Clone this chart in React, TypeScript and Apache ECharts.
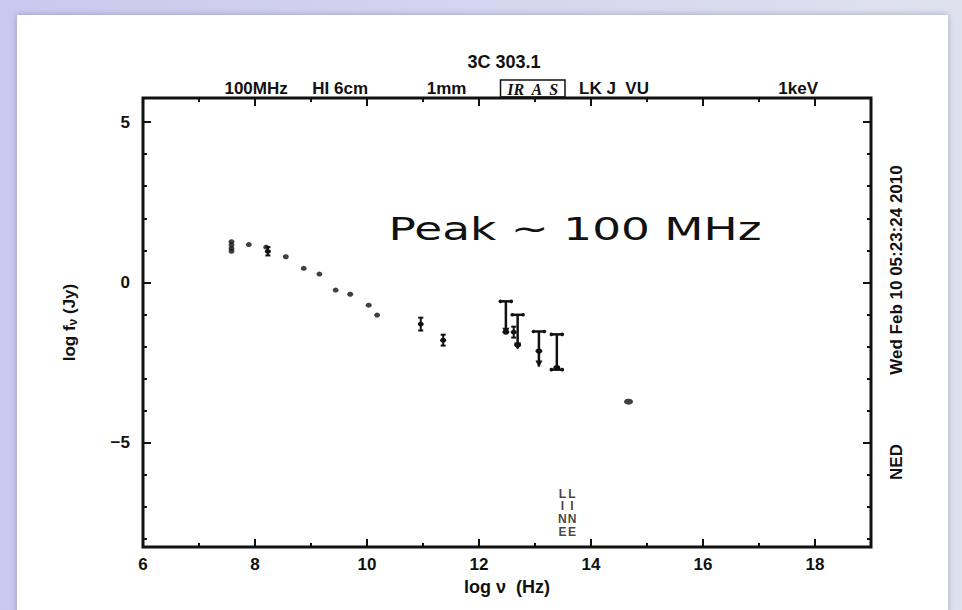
import React, { useEffect, useRef } from "react";
import * as echarts from "echarts";

// Spectral energy distribution of 3C 303.1 (log nu in Hz, log f_nu in Jy)

// Radio / mm photometry drawn as plain points
const RADIO_NU = [7.58, 7.58, 7.58, 7.58, 7.89, 8.2, 8.55, 8.87, 9.15, 9.44, 9.7, 10.03, 10.18];
const RADIO_F = [1.27, 1.17, 1.06, 0.97, 1.18, 1.1, 0.8, 0.44, 0.26, -0.24, -0.37, -0.71, -1.02];

// Points carrying error bars
const ERR_NU = [8.23, 10.96, 11.36, 12.62];
const ERR_F = [0.97, -1.3, -1.8, -1.55];
const ERR_LO = [0.84, -1.5, -1.97, -1.72];
const ERR_HI = [1.1, -1.1, -1.63, -1.38];

// Infrared measurements with long bars; most end in a downward arrow
const IR_NU = [12.48, 12.69, 13.07, 13.39];
const IR_F = [-1.55, -1.95, -2.14, -2.66];
const IR_HI = [-0.59, -1.01, -1.53, -1.62];
const IR_LO = [-1.6, -2.06, -2.62, -2.72];
const IR_ARROW = [1, 1, 1, 0];

// Optical / X-ray point
const HI_NU = [14.67];
const HI_F = [-3.72];

// Emission-line flags
const LINE_NU = [13.49, 13.66];
const LINE_TEXT = "L\nI\nN\nE";

// Band labels along the top of the frame
const BAND_NU = [8.02, 9.52, 11.42, 12.96, 14.41, 17.7];
const BAND_TEXT = ["100MHz", "HI 6cm", "1mm", "{box|IR  A  S}", "LK J  VU", "1keV"];

// Axis tick values
const X_MAJOR = [6, 8, 10, 12, 14, 16, 18];
const X_MINOR = [7, 9, 11, 13, 15, 17];
const Y_MAJOR = [-5, 0, 5];
const Y_MINOR = [-8, -7, -6, -4, -3, -2, -1, 1, 2, 3, 4];

const X_MIN = 6;
const X_MAX = 19;
const Y_MIN = -8.25;
const Y_MAX = 5.75;
const LINE_LABEL_Y = -7.18;

const FONT = "Liberation Sans";
const INK = "#111";

function tickAxis(position: string, values: number[], len: number, min: number, max: number) {
  return {
    type: "value",
    position,
    min,
    max,
    axisLine: { show: false, onZero: false },
    splitLine: { show: false },
    axisLabel: { show: false },
    axisTick: {
      show: true,
      inside: true,
      length: len,
      customValues: values,
      lineStyle: { color: INK, width: 2 },
    },
  };
}

export default function App() {
  const ref = useRef<HTMLDivElement>(null);

  useEffect(() => {
    if (!ref.current) return;
    const chart = echarts.init(ref.current, undefined, { renderer: "svg" });

    const radio = RADIO_NU.map((x, i) => [x, RADIO_F[i]]);
    const errs = ERR_NU.map((x, i) => [x, ERR_F[i], ERR_LO[i], ERR_HI[i]]);
    const ir = IR_NU.map((x, i) => [x, IR_HI[i], IR_LO[i], IR_F[i], IR_ARROW[i]]);
    const high = HI_NU.map((x, i) => [x, HI_F[i]]);
    const lines = LINE_NU.map((x) => [x, LINE_LABEL_Y]);
    // tick marks on the top and bottom frame edges: [value, length]
    const xTicks = [...X_MAJOR.map((v) => [v, 8]), ...X_MINOR.map((v) => [v, 4])];

    const minus = (v: number) => String(v).replace("-", "\u2212");

    chart.setOption({
      animation: false,
      backgroundColor: "transparent",
      title: {
        text: "3C 303.1",
        left: 499,
        top: 48,
        textAlign: "center",
        textStyle: { fontFamily: FONT, fontWeight: "bold", fontSize: 18, color: INK },
      },
      grid: {
        left: 143,
        right: 91,
        top: 98,
        bottom: 63,
        show: true,
        borderColor: INK,
        borderWidth: 3,
        backgroundColor: "transparent",
      },
      xAxis: [
        {
          type: "value",
          position: "bottom",
          min: X_MIN,
          max: X_MAX,
          axisLine: { show: false, onZero: false },
          splitLine: { show: false },
          axisTick: { show: false },
          axisLabel: {
            customValues: X_MAJOR,
            margin: 9,
            fontFamily: FONT,
            fontWeight: "bold",
            fontSize: 17,
            color: INK,
          },
          name: "log \u03bd  (Hz)",
          nameLocation: "middle",
          nameGap: 30,
          nameTextStyle: { fontFamily: FONT, fontWeight: "bold", fontSize: 18, color: INK },
        },
        {
          type: "value",
          position: "top",
          min: X_MIN,
          max: X_MAX,
          axisLine: { show: false, onZero: false },
          splitLine: { show: false },
          axisTick: { show: false },
          axisLabel: {
            customValues: BAND_NU,
            margin: 1,
            fontFamily: FONT,
            fontWeight: "bold",
            fontSize: 17,
            color: INK,
            formatter: (v: number) => {
              const i = BAND_NU.findIndex((b) => Math.abs(b - v) < 1e-6);
              return i >= 0 ? BAND_TEXT[i] : "";
            },
            rich: {
              box: {
                fontFamily: "Liberation Serif",
                fontStyle: "italic",
                fontWeight: "bold",
                fontSize: 16,
                color: INK,
                borderColor: INK,
                borderWidth: 1.5,
                padding: [1, 6, 0, 6],
              },
            },
          },
        },
      ],
      yAxis: [
        {
          type: "value",
          position: "left",
          min: Y_MIN,
          max: Y_MAX,
          axisLine: { show: false, onZero: false },
          splitLine: { show: false },
          axisTick: {
            show: true,
            inside: true,
            length: 8,
            customValues: Y_MAJOR,
            lineStyle: { color: INK, width: 2 },
          },
          axisLabel: {
            customValues: Y_MAJOR,
            margin: 13,
            fontFamily: FONT,
            fontWeight: "bold",
            fontSize: 17,
            color: INK,
            formatter: minus,
          },
          name: "log f{sub|\u03bd} (Jy)",
          nameLocation: "middle",
          nameGap: 64,
          nameRotate: 90,
          nameTextStyle: {
            fontFamily: FONT,
            fontWeight: "bold",
            fontSize: 17,
            color: INK,
            rich: {
              sub: { fontFamily: FONT, fontWeight: "bold", fontSize: 12, color: INK, padding: [8, 0, 0, 0] },
            },
          },
        },
        tickAxis("left", Y_MINOR, 4, Y_MIN, Y_MAX),
        tickAxis("right", Y_MAJOR, 8, Y_MIN, Y_MAX),
        tickAxis("right", Y_MINOR, 4, Y_MIN, Y_MAX),
      ],
      graphic: [
        {
          type: "text",
          x: 575,
          y: 229,
          scaleX: 1.42,
          style: {
            text: "Peak ~ 100 MHz",
            font: "32px 'DejaVu Sans'",
            fill: INK,
            align: "center",
            verticalAlign: "middle",
          },
        },
        {
          type: "text",
          x: 896,
          y: 270,
          rotation: Math.PI / 2,
          style: {
            text: "Wed Feb 10 05:23:24 2010",
            font: `bold 17px '${FONT}'`,
            fill: INK,
            align: "center",
            verticalAlign: "middle",
          },
        },
        {
          type: "text",
          x: 896,
          y: 462,
          rotation: Math.PI / 2,
          style: {
            text: "NED",
            font: `bold 17px '${FONT}'`,
            fill: INK,
            align: "center",
            verticalAlign: "middle",
          },
        },
      ],
      series: [
        {
          // inward tick marks along the top and bottom of the frame
          type: "custom",
          data: xTicks,
          encode: { x: 0 },
          silent: true,
          renderItem: (_p: any, api: any) => {
            const v = api.value(0);
            const len = api.value(1);
            const b = api.coord([v, Y_MIN]);
            const t = api.coord([v, Y_MAX]);
            const st = { stroke: INK, lineWidth: 2 };
            return {
              type: "group",
              children: [
                { type: "line", shape: { x1: b[0], y1: b[1], x2: b[0], y2: b[1] - len }, style: st },
                { type: "line", shape: { x1: t[0], y1: t[1], x2: t[0], y2: t[1] + len }, style: st },
              ],
            };
          },
        },
        {
          type: "scatter",
          data: radio,
          symbol: "circle",
          symbolSize: [6, 5],
          itemStyle: { color: INK },
        },
        {
          type: "custom",
          data: errs,
          encode: { x: 0, y: 1 },
          renderItem: (_p: any, api: any) => {
            const x = api.value(0);
            const c = api.coord([x, api.value(1)]);
            const lo = api.coord([x, api.value(2)]);
            const hi = api.coord([x, api.value(3)]);
            const st = { stroke: INK, lineWidth: 2 };
            return {
              type: "group",
              children: [
                { type: "line", shape: { x1: hi[0], y1: hi[1], x2: lo[0], y2: lo[1] }, style: st },
                { type: "line", shape: { x1: hi[0] - 2.5, y1: hi[1], x2: hi[0] + 2.5, y2: hi[1] }, style: st },
                { type: "line", shape: { x1: lo[0] - 2.5, y1: lo[1], x2: lo[0] + 2.5, y2: lo[1] }, style: st },
                { type: "ellipse", shape: { cx: c[0], cy: c[1], rx: 3, ry: 2.4 }, style: { fill: INK } },
              ],
            };
          },
        },
        {
          type: "custom",
          data: ir,
          encode: { x: 0, y: 1 },
          renderItem: (_p: any, api: any) => {
            const x = api.value(0);
            const hi = api.coord([x, api.value(1)]);
            const lo = api.coord([x, api.value(2)]);
            const c = api.coord([x, api.value(3)]);
            const arrow = api.value(4) > 0;
            const st = { stroke: INK, lineWidth: 2.5 };
            const cap = (p: number[]) => [
              { type: "line", shape: { x1: p[0] - 5.5, y1: p[1], x2: p[0] + 5.5, y2: p[1] }, style: st },
              { type: "circle", shape: { cx: p[0] - 5.5, cy: p[1], r: 1.8 }, style: { fill: INK } },
              { type: "circle", shape: { cx: p[0] + 5.5, cy: p[1], r: 1.8 }, style: { fill: INK } },
            ];
            const children: any[] = [
              { type: "line", shape: { x1: hi[0], y1: hi[1], x2: lo[0], y2: lo[1] }, style: st },
              ...cap(hi),
              { type: "ellipse", shape: { cx: c[0], cy: c[1], rx: 3.5, ry: 2.6 }, style: { fill: INK } },
            ];
            if (arrow) {
              children.push({
                type: "polygon",
                shape: { points: [[lo[0] - 3.5, lo[1] - 6], [lo[0] + 3.5, lo[1] - 6], [lo[0], lo[1] + 1]] },
                style: { fill: INK },
              });
            } else {
              children.push(...cap(lo));
            }
            return { type: "group", children };
          },
        },
        {
          type: "scatter",
          data: high,
          symbol: "circle",
          symbolSize: [9, 6],
          itemStyle: { color: INK },
        },
        {
          type: "scatter",
          data: lines,
          symbolSize: 0,
          label: {
            show: true,
            position: "inside",
            formatter: () => LINE_TEXT,
            fontFamily: FONT,
            fontWeight: "bold",
            fontSize: 12,
            lineHeight: 12.7,
            color: INK,
          },
        },
      ],
    });

    return () => chart.dispose();
  }, []);

  return (
    <div
      style={{
        position: "fixed",
        left: 0,
        top: 0,
        width: 962,
        height: 610,
        overflow: "hidden",
        background: "linear-gradient(to right, #cac8ee, #dfe2ee)",
      }}
    >
      <div
        style={{
          position: "absolute",
          left: 17,
          top: 15,
          width: 931,
          height: 620,
          background: "#fff",
          boxShadow: "0 0 6px rgba(60,60,110,0.35)",
        }}
      />
      <div ref={ref} style={{ position: "absolute", left: 0, top: 0, width: 962, height: 610 }} />
    </div>
  );
}
